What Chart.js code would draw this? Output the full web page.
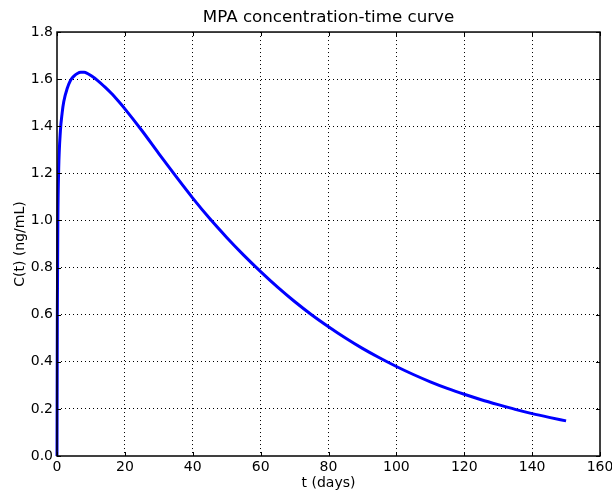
<!DOCTYPE html>
<html>
<head>
<meta charset="utf-8">
<script src="https://cdn.jsdelivr.net/npm/chart.js@4/dist/chart.umd.min.js"></script>
<style>
    html, body { margin: 0; padding: 0; background: #ffffff; }
    #wrap { width: 612px; height: 491px; }
</style>
</head>
<body>
<div id="wrap"><canvas id="mpa_chart" width="612" height="491"></canvas></div>
<script>
// values
const tempos = [0, 0.1, 0.25, 0.5, 1, 1.5, 2, 3, 4, 5, 6, 7, 8, 9, 10, 12, 14, 16, 18, 20,
    25, 30, 35, 40, 45, 50, 55, 60, 65, 70, 75, 80, 85, 90, 95, 100,
    105, 110, 115, 120, 125, 130, 135, 140, 145, 150];
const concentracoes = [0, 0.6, 1.0, 1.22, 1.38, 1.455, 1.505, 1.56, 1.595, 1.613, 1.624, 1.629, 1.629, 1.624, 1.615, 1.594, 1.568, 1.54, 1.508, 1.474,
    1.382, 1.284, 1.188, 1.095, 1.008, 0.928, 0.853, 0.783, 0.717, 0.656, 0.6, 0.549, 0.501, 0.457, 0.417, 0.38,
    0.346, 0.315, 0.287, 0.262, 0.239, 0.218, 0.198, 0.18, 0.164, 0.149];
const x_ticks = [0, 20, 40, 60, 80, 100, 120, 140, 160];
const y_ticks = [0.0, 0.2, 0.4, 0.6, 0.8, 1.0, 1.2, 1.4, 1.6, 1.8];

const fonte = "'DejaVu Sans', sans-serif";

let pontos = [];
tempos.forEach((t, i) => {
    pontos.push({ x: t, y: concentracoes[i] });
});

// moldura e ticks para dentro, estilo matplotlib
const moldura = {
    id: 'moldura',
    afterDraw(chart) {
        const ctx = chart.ctx;
        const area = chart.chartArea;
        const sx = chart.scales.x;
        const sy = chart.scales.y;
        ctx.save();
        ctx.strokeStyle = '#000000';
        ctx.lineWidth = 1;
        ctx.beginPath();
        x_ticks.forEach(v => {
            const px = Math.round(sx.getPixelForValue(v)) + 0.5;
            ctx.moveTo(px, area.bottom); ctx.lineTo(px, area.bottom - 4);
            ctx.moveTo(px, area.top); ctx.lineTo(px, area.top + 4);
        });
        y_ticks.forEach(v => {
            const py = Math.round(sy.getPixelForValue(v)) + 0.5;
            ctx.moveTo(area.left, py); ctx.lineTo(area.left + 4, py);
            ctx.moveTo(area.right, py); ctx.lineTo(area.right - 4, py);
        });
        ctx.stroke();
        ctx.lineWidth = 1.5;
        ctx.strokeRect(area.left, area.top, area.right - area.left, area.bottom - area.top);
        ctx.restore();
    }
};

new Chart(document.getElementById('mpa_chart'), {
    type: 'scatter',
    data: {
        datasets: [{
            label: 'C(t)',
            data: pontos,
            showLine: true,
            borderColor: '#0000ff',
            borderWidth: 3,
            pointRadius: 0,
            cubicInterpolationMode: 'monotone',
            clip: false
        }]
    },
    options: {
        responsive: false,
        animation: false,
        layout: { padding: { left: 0, right: 12, top: 0, bottom: 0 } },
        plugins: {
            legend: { display: false },
            tooltip: { enabled: false },
            title: {
                display: true,
                text: 'MPA concentration-time curve',
                color: '#000000',
                fullSize: false,
                font: { family: fonte, size: 16.7, weight: 'normal', lineHeight: 1.2 },
                padding: { top: 8, bottom: 4 }
            }
        },
        scales: {
            x: {
                type: 'linear',
                min: 0,
                max: 160,
                afterBuildTicks: scale => { scale.ticks = x_ticks.map(v => ({ value: v })); },
                afterFit: scale => { scale.height = 35; scale.paddingLeft = 0; scale.paddingRight = 0; },
                ticks: {
                    color: '#000000',
                    padding: 3,
                    maxRotation: 0,
                    font: { family: fonte, size: 14 },
                    callback: v => String(v)
                },
                grid: {
                    color: ctx => (ctx.tick && (ctx.tick.value === 0 || ctx.tick.value === 160)) ? 'rgba(0,0,0,0)' : '#000000',
                    lineWidth: 1,
                    drawTicks: false
                },
                border: { display: false, dash: [1, 3] },
                title: {
                    display: true,
                    text: 't (days)',
                    color: '#000000',
                    font: { family: fonte, size: 14 },
                    padding: { top: 0, bottom: -1 }
                }
            },
            y: {
                type: 'linear',
                min: 0,
                max: 1.8,
                afterBuildTicks: scale => { scale.ticks = y_ticks.map(v => ({ value: v })); },
                afterFit: scale => { scale.width = 57; scale.paddingTop = 0; scale.paddingBottom = 0; },
                ticks: {
                    color: '#000000',
                    padding: 4,
                    font: { family: fonte, size: 14 },
                    callback: v => Number(v).toFixed(1)
                },
                grid: {
                    color: ctx => (ctx.tick && (ctx.tick.value === 0 || Math.abs(ctx.tick.value - 1.8) < 1e-9)) ? 'rgba(0,0,0,0)' : '#000000',
                    lineWidth: 1,
                    drawTicks: false
                },
                border: { display: false, dash: [1, 3] },
                title: {
                    display: true,
                    text: 'C(t) (ng/mL)',
                    color: '#000000',
                    font: { family: fonte, size: 14 },
                    padding: { top: 12, bottom: 0 }
                }
            }
        }
    },
    plugins: [moldura]
});
</script>
</body>
</html>
